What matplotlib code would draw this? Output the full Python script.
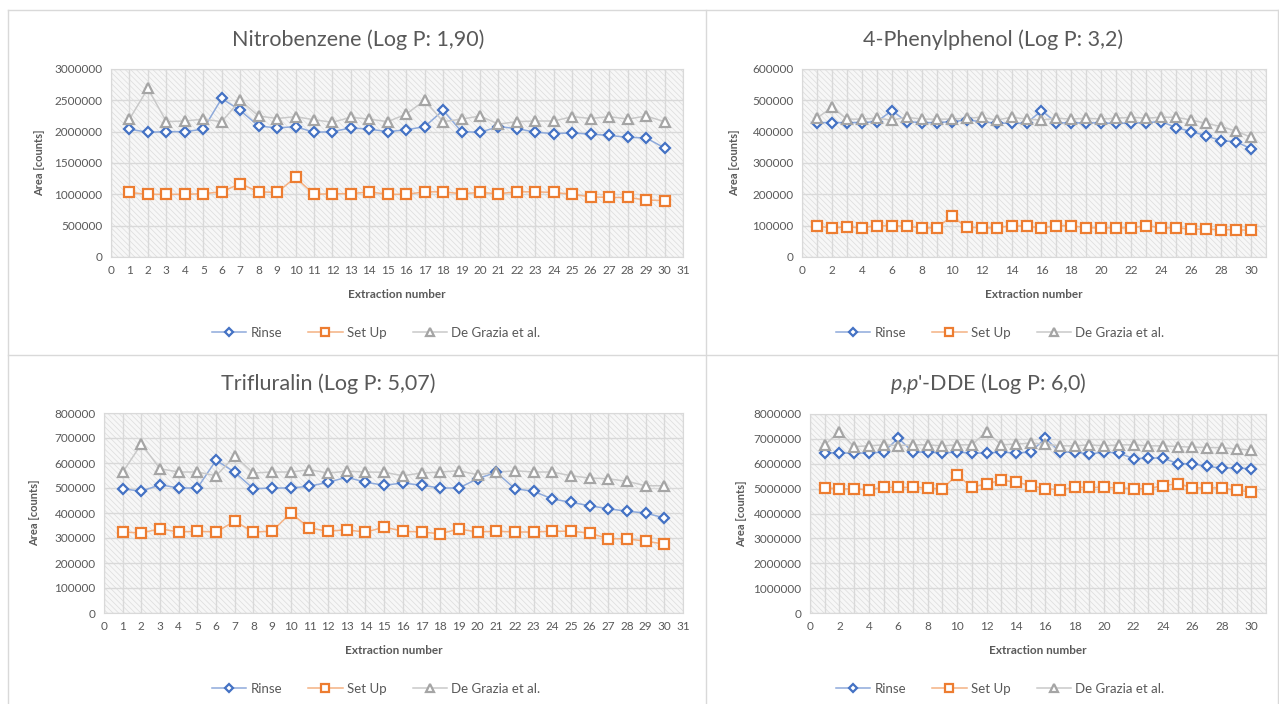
import matplotlib
matplotlib.use("Agg")
import matplotlib.pyplot as plt
from matplotlib.lines import Line2D
from matplotlib import ticker

plt.rcParams['font.family'] = ['Lato', 'DejaVu Sans']
plt.rcParams['mathtext.fontset'] = 'custom'
plt.rcParams['mathtext.it'] = 'Lato:italic'
plt.rcParams['mathtext.rm'] = 'Lato'
plt.rcParams['hatch.linewidth'] = 0.5

# %%
# Data (extraction 1..30)
extraction = list(range(1, 31))

nitro_rinse = [2040000, 1990000, 2000000, 2000000, 2040000, 2530000, 2340000, 2090000, 2060000, 2080000,
               1990000, 2000000, 2060000, 2040000, 2000000, 2030000, 2080000, 2340000, 2000000, 1990000,
               2080000, 2050000, 1990000, 1970000, 1980000, 1960000, 1940000, 1910000, 1900000, 1740000]
nitro_setup = [1030000, 1000000, 1000000, 1000000, 1010000, 1040000, 1170000, 1040000, 1030000, 1270000,
               1000000, 1010000, 1010000, 1040000, 1000000, 1000000, 1040000, 1040000, 1010000, 1030000,
               1010000, 1040000, 1040000, 1030000, 1000000, 960000, 950000, 950000, 910000, 900000]
nitro_degrazia = [2200000, 2690000, 2160000, 2170000, 2200000, 2160000, 2500000, 2250000, 2210000, 2240000,
                  2190000, 2150000, 2230000, 2200000, 2160000, 2280000, 2500000, 2160000, 2200000, 2250000,
                  2120000, 2160000, 2170000, 2170000, 2240000, 2210000, 2240000, 2200000, 2250000, 2160000]

phenyl_rinse = [429000, 429000, 429000, 429000, 432000, 467000, 432000, 429000, 429000, 432000,
                437000, 432000, 427000, 427000, 427000, 467000, 429000, 427000, 429000, 427000,
                427000, 427000, 429000, 432000, 413000, 400000, 387000, 371000, 368000, 345000]
phenyl_setup = [98000, 93000, 96000, 93000, 100000, 100000, 98000, 93000, 93000, 130000,
                95000, 93000, 93000, 100000, 98000, 93000, 100000, 100000, 93000, 93000,
                93000, 93000, 100000, 93000, 93000, 89000, 89000, 87000, 87000, 85000]
phenyl_degrazia = [443000, 478000, 440000, 440000, 443000, 437000, 446000, 440000, 440000, 440000,
                   443000, 446000, 437000, 446000, 440000, 437000, 443000, 440000, 443000, 440000,
                   443000, 446000, 443000, 446000, 446000, 437000, 427000, 416000, 402000, 382000]

triflu_rinse = [497000, 487000, 513000, 500000, 500000, 611000, 563000, 497000, 500000, 500000,
                507000, 523000, 543000, 523000, 511000, 520000, 511000, 500000, 500000, 537000,
                563000, 497000, 487000, 456000, 443000, 429000, 417000, 407000, 400000, 380000]
triflu_setup = [324000, 320000, 337000, 324000, 327000, 324000, 367000, 324000, 327000, 400000,
                340000, 327000, 333000, 323000, 344000, 327000, 324000, 317000, 336000, 324000,
                327000, 324000, 324000, 327000, 327000, 320000, 297000, 297000, 287000, 276000]
triflu_degrazia = [563000, 676000, 577000, 564000, 564000, 549000, 627000, 560000, 564000, 564000,
                   573000, 560000, 567000, 564000, 563000, 549000, 560000, 564000, 569000, 553000,
                   563000, 569000, 564000, 564000, 549000, 540000, 537000, 527000, 509000, 509000]

dde_rinse = [6450000, 6430000, 6430000, 6430000, 6470000, 7030000, 6470000, 6470000, 6430000, 6470000,
             6430000, 6430000, 6470000, 6430000, 6470000, 7030000, 6470000, 6470000, 6390000, 6470000,
             6430000, 6200000, 6230000, 6230000, 6000000, 6000000, 5890000, 5830000, 5830000, 5800000]
dde_setup = [5030000, 4990000, 4990000, 4960000, 5050000, 5050000, 5050000, 5030000, 4990000, 5560000,
             5050000, 5200000, 5330000, 5270000, 5120000, 5000000, 4960000, 5050000, 5050000, 5050000,
             5030000, 5000000, 5000000, 5120000, 5200000, 5030000, 5030000, 5030000, 4930000, 4870000]
dde_degrazia = [6760000, 7290000, 6690000, 6720000, 6760000, 6730000, 6760000, 6760000, 6720000, 6760000,
                6760000, 7290000, 6760000, 6790000, 6830000, 6790000, 6720000, 6720000, 6760000, 6720000,
                6760000, 6760000, 6720000, 6720000, 6690000, 6670000, 6650000, 6650000, 6590000, 6560000]

series_names = ["Rinse", "Set Up", "De Grazia et al."]

# %%
W, H = 1279, 704
fig = plt.figure(figsize=(W / 100, H / 100), dpi=100)
fig.patch.set_facecolor("white")

TXT = "#595959"
GRID = "#d9d9d9"
styles = [
    dict(color="#4472C4", marker="D", ms=4.8, line="#8eaadb"),
    dict(color="#ED7D31", marker="s", ms=7, line="#f4b183"),
    dict(color="#A5A5A5", marker="^", ms=7.5, line="#c9c9c9"),
]


def px_axes(x0, y0, x1, y1):
    return fig.add_axes([x0 / W, 1 - y1 / H, (x1 - x0) / W, (y1 - y0) / H])


def panel(box, title, title_xy, ymax, ystep, data, every_x, ylab_x, xlab_y, leg_xy):
    ax = px_axes(*box)
    ax.patch.set_facecolor("#f7f7f7")
    ax.patch.set_edgecolor("#dcdcdc")
    ax.patch.set_hatch("\\\\\\\\\\\\")
    for s in ax.spines.values():
        s.set_color(GRID)
    ax.set_xlim(0, 31)
    ax.set_ylim(0, ymax)
    ax.yaxis.set_major_locator(ticker.MultipleLocator(ystep))
    ax.yaxis.set_major_formatter(ticker.FuncFormatter(lambda v, p: f"{int(round(v))}"))
    ax.xaxis.set_major_locator(ticker.MultipleLocator(every_x))
    ax.xaxis.set_minor_locator(ticker.MultipleLocator(1))
    ax.grid(True, which="both", axis="x", color=GRID, lw=1)
    ax.grid(True, which="major", axis="y", color=GRID, lw=1)
    ax.set_axisbelow(True)
    ax.tick_params(which="both", length=0, labelsize=8.5, colors=TXT, pad=6)

    handles = []
    for vals, st, name in zip(data, styles, series_names):
        ax.plot(extraction, vals, color=st["line"], lw=1.1, zorder=2)
        ax.plot(extraction, vals, ls="none", marker=st["marker"], ms=st["ms"],
                mfc="white", mec=st["color"], mew=1.6, zorder=3)
        handles.append(Line2D([], [], color=st["line"], lw=1.1, marker=st["marker"],
                              ms=st["ms"] * 0.85, mfc="white", mec=st["color"], mew=1.6))

    fig.text(title_xy[0] / W, 1 - title_xy[1] / H, title, ha="center", va="center",
             fontsize=15.5, color=TXT)
    fig.text(ylab_x / W, 1 - (box[1] + box[3]) / 2 / H, "Area [counts]", rotation=90,
             ha="center", va="center", fontsize=8, fontweight="bold", color=TXT)
    fig.text((box[0] + box[2]) / 2 / W, 1 - xlab_y / H, "Extraction number",
             ha="center", va="center", fontsize=8.5, fontweight="bold", color=TXT)
    ax.legend(handles, series_names, loc="center", ncol=3, frameon=False,
              bbox_to_anchor=(leg_xy[0] / W, 1 - leg_xy[1] / H),
              bbox_transform=fig.transFigure, fontsize=9.5, labelcolor=TXT,
              handlelength=2.6, columnspacing=2.0, handletextpad=0.3)
    return ax


panel((111, 69, 683, 257), "Nitrobenzene (Log P: 1,90)", (358, 40), 3000000, 500000,
      [nitro_rinse, nitro_setup, nitro_degrazia], 1, 40, 295, (376, 333))
panel((802, 69, 1266, 257), "4-Phenylphenol (Log P: 3,2)", (993, 40), 600000, 100000,
      [phenyl_rinse, phenyl_setup, phenyl_degrazia], 2, 735, 295, (1000, 333))
panel((104, 413, 683, 613), "Trifluralin (Log P: 5,07)", (328, 384), 800000, 100000,
      [triflu_rinse, triflu_setup, triflu_degrazia], 1, 35, 651, (376, 689))
panel((810, 414, 1266, 613), r"$\mathit{p{,}p}$'-DDE (Log P: 6,0)", (988, 384), 8000000, 1000000,
      [dde_rinse, dde_setup, dde_degrazia], 2, 742, 651, (1000, 689))

# chart borders
for xs, ys in [((8, 1278), (10, 10)), ((8, 1278), (355, 355)), ((8, 8), (10, 704)),
               ((706, 706), (10, 704)), ((1278, 1278), (10, 704))]:
    fig.add_artist(Line2D([x / W for x in xs], [1 - y / H for y in ys],
                          color="#d9d9d9", lw=1))

fig.savefig("out.png", dpi=100)
